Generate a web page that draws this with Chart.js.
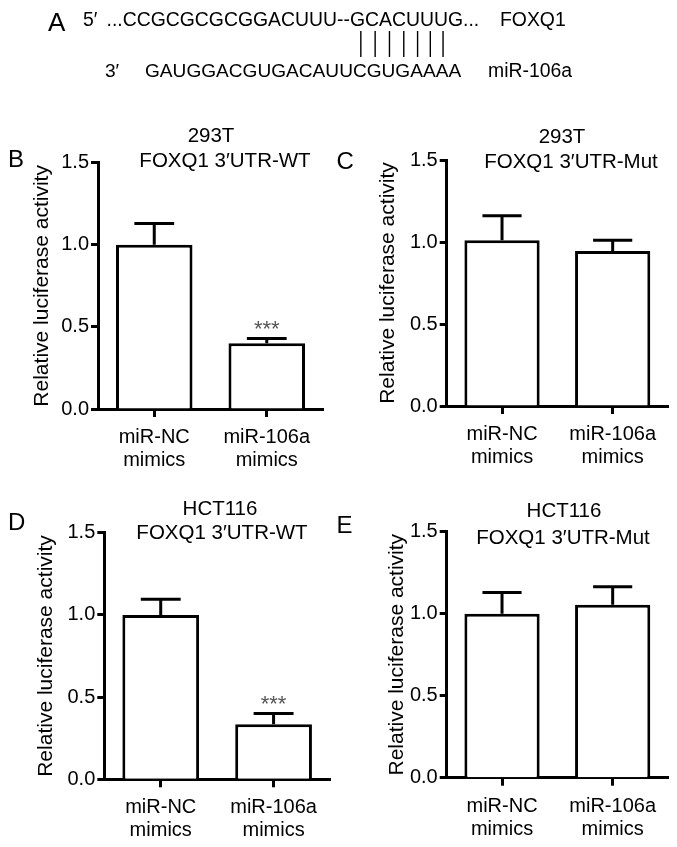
<!DOCTYPE html>
<html>
<head>
<meta charset="utf-8">
<script src="https://cdn.jsdelivr.net/npm/chart.js@4.4.1/dist/chart.umd.min.js"></script>
<style>
  body { margin: 0; background: #fff; }
  #wrap { position: relative; width: 677px; height: 847px; }
  canvas { position: absolute; }
</style>
</head>
<body>
<div id="wrap">
  <canvas id="seq" width="677" height="110" style="left:0;top:0"></canvas>
  <canvas id="panelB" width="338" height="370" style="left:0;top:110px"></canvas>
  <canvas id="panelC" width="347" height="370" style="left:330px;top:110px"></canvas>
  <canvas id="panelD" width="338" height="367" style="left:0;top:480px"></canvas>
  <canvas id="panelE" width="347" height="367" style="left:330px;top:480px"></canvas>
</div>
<script>
// values
var categories = [['miR-NC', 'mimics'], ['miR-106a', 'mimics']];
var yTicks = [0, 0.5, 1.0, 1.5];
var yTitle = 'Relative luciferase activity';

var wt293Mean = [1.0, 0.40];
var wt293Sem = [0.13, 0.03];
var mut293Mean = [1.01, 0.945];
var mut293Sem = [0.15, 0.065];
var wtHctMean = [1.0, 0.335];
var wtHctSem = [0.095, 0.066];
var mutHctMean = [1.0, 1.055];
var mutHctSem = [0.13, 0.11];

var sigWT = ['', '***'];
var sigMut = ['', ''];

var titleB = ['293T', 'FOXQ1 3\u2032UTR-WT'];
var titleC = ['293T', 'FOXQ1 3\u2032UTR-Mut'];
var titleD = ['HCT116', 'FOXQ1 3\u2032UTR-WT'];
var titleE = ['HCT116', 'FOXQ1 3\u2032UTR-Mut'];

var targetSeq = '...CCGCGCGCGGACUUU--GCACUUUG...';
var mirSeq = 'GAUGGACGUGACAUUCGUGAAAA';
var pairedFrom = 15, pairedTo = 22; // bottom letters with a pairing bar

var FONT = "'Liberation Sans', Arial, Helvetica, sans-serif";

// panel A: sequence alignment
(function drawSeq() {
    var ctx = document.getElementById('seq').getContext('2d');
    ctx.fillStyle = '#000';
    ctx.textBaseline = 'alphabetic';
    ctx.font = '26px ' + FONT;
    ctx.fillText('A', 48, 31);
    ctx.font = '19.4px ' + FONT;
    ctx.fillText('5\u2032', 83, 26);
    ctx.fillText(targetSeq, 106.5, 26);
    ctx.fillText('FOXQ1', 500, 26);
    ctx.font = '19.1px ' + FONT;
    ctx.fillText('3\u2032', 105, 77);
    ctx.fillText(mirSeq, 145, 77);
    ctx.font = '19.4px ' + FONT;
    ctx.fillText('miR-106a', 488, 77);
    ctx.font = '19.1px ' + FONT;
    ctx.strokeStyle = '#000';
    ctx.lineWidth = 1.4;
    for (var i = pairedFrom; i < pairedTo; i++) {
        var x = 145 + ctx.measureText(mirSeq.slice(0, i)).width + ctx.measureText(mirSeq[i]).width / 2 + 1;
        ctx.beginPath();
        ctx.moveTo(x, 31);
        ctx.lineTo(x, 57);
        ctx.stroke();
    }
})();

var errorBarPlugin = {
    id: 'errorBars',
    afterDatasetsDraw: function (chart, args, o) {
        var ctx = chart.ctx;
        var y = chart.scales.y;
        var meta = chart.getDatasetMeta(0);
        ctx.save();
        ctx.strokeStyle = '#000';
        ctx.lineWidth = 3;
        meta.data.forEach(function (bar, i) {
            var top = y.getPixelForValue(o.means[i] + o.sems[i]);
            var half = bar.width * o.capRatio / 2;
            ctx.beginPath();
            ctx.moveTo(bar.x, bar.y);
            ctx.lineTo(bar.x, top);
            ctx.moveTo(bar.x - half, top);
            ctx.lineTo(bar.x + half, top);
            ctx.stroke();
            if (o.marks[i]) {
                ctx.fillStyle = '#555';
                ctx.font = '22px ' + FONT;
                ctx.textAlign = 'center';
                ctx.textBaseline = 'alphabetic';
                ctx.fillText(o.marks[i], bar.x, top - 2);
            }
        });
        ctx.restore();
    }
};

var panelTextPlugin = {
    id: 'panelText',
    afterDraw: function (chart, args, o) {
        var ctx = chart.ctx;
        ctx.save();
        ctx.fillStyle = '#000';
        ctx.textBaseline = 'alphabetic';
        ctx.textAlign = 'left';
        ctx.font = '24px ' + FONT;
        ctx.fillText(o.letter, o.letterX, o.letterY);
        ctx.textAlign = 'center';
        ctx.font = '20.5px ' + FONT;
        o.lines.forEach(function (t, i) {
            ctx.fillText(t, o.lineX[i], o.lineY[i]);
        });
        ctx.restore();
    }
};

function makeChart(id, means, sems, marks, p) {
    var canvas = document.getElementById(id);
    return new Chart(canvas, {
        type: 'bar',
        data: {
            labels: categories,
            datasets: [{
                data: means,
                backgroundColor: '#fff',
                borderColor: '#000',
                borderWidth: 3,
                borderSkipped: 'start',
                barPercentage: 0.68,
                categoryPercentage: 1
            }]
        },
        options: {
            responsive: false,
            animation: false,
            events: [],
            layout: { padding: { left: p.padLeft, top: p.padTop, right: p.padRight, bottom: 0 } },
            plugins: {
                legend: { display: false },
                tooltip: { enabled: false },
                errorBars: { means: means, sems: sems, marks: marks, capRatio: 0.52 },
                panelText: p.text
            },
            scales: {
                x: {
                    type: 'category',
                    offset: true,
                    z: 1,
                    grid: { display: true, drawOnChartArea: false, offset: false, tickLength: 8, tickWidth: 3, tickColor: '#000', color: '#000' },
                    border: { display: true, color: '#000', width: 3 },
                    ticks: { color: '#000', padding: 9, font: { family: FONT, size: 20, lineHeight: 1.15 } },
                    afterFit: function (s) { s.height = canvas.height - p.bottom; }
                },
                y: {
                    min: 0,
                    max: 1.5,
                    z: 1,
                    afterBuildTicks: function (s) { s.ticks = yTicks.map(function (v) { return { value: v }; }); },
                    grid: { display: true, drawOnChartArea: false, tickLength: 7, tickWidth: 3, tickColor: '#000', color: '#000' },
                    border: { display: true, color: '#000', width: 3 },
                    ticks: {
                        color: '#000', padding: 2,
                        font: { family: FONT, size: 20 },
                        callback: function (v) { return Number(v).toFixed(1); }
                    },
                    title: { display: true, text: yTitle, color: '#000', padding: 0, font: { family: FONT, size: 21 } },
                    afterFit: function (s) { s.width = p.axisX - p.padLeft; }
                }
            }
        },
        plugins: [errorBarPlugin, panelTextPlugin]
    });
}

makeChart('panelB', wt293Mean, wt293Sem, sigWT, {
    padLeft: 30, padTop: 52.7, padRight: 15, axisX: 98, bottom: 299,
    text: { letter: 'B', letterX: 8, letterY: 57, lines: titleB, lineX: [211, 225], lineY: [31.5, 57] }
});
makeChart('panelC', mut293Mean, mut293Sem, sigMut, {
    padLeft: 46, padTop: 50, padRight: 9, axisX: 116.7, bottom: 296,
    text: { letter: 'C', letterX: 6.5, letterY: 59, lines: titleC, lineX: [232, 241], lineY: [33, 58] }
});
makeChart('panelD', wtHctMean, wtHctSem, sigWT, {
    padLeft: 34, padTop: 52.7, padRight: 8, axisX: 104.3, bottom: 299.3,
    text: { letter: 'D', letterX: 8, letterY: 50, lines: titleD, lineX: [220, 222], lineY: [35, 59] }
});
makeChart('panelE', mutHctMean, mutHctSem, sigMut, {
    padLeft: 55, padTop: 51.7, padRight: 9, axisX: 116.7, bottom: 297.7,
    text: { letter: 'E', letterX: 6.5, letterY: 53, lines: titleE, lineX: [234, 233], lineY: [36.5, 64] }
});
</script>
</body>
</html>
